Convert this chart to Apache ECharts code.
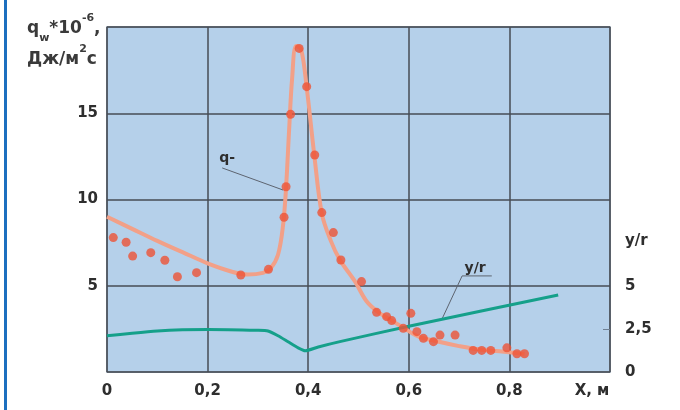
<!DOCTYPE html>
<html>
<head>
<meta charset="utf-8">
<script src="https://cdn.jsdelivr.net/npm/echarts@6/dist/echarts.min.js"></script>
<style>
  html, body { margin: 0; padding: 0; background: #fff; }
  #chart { width: 680px; height: 410px; }
</style>
</head>
<body>
<div id="chart"></div>
<script>
// fitted heat flux curve q
const curveX = [0, 0.05, 0.1, 0.15, 0.2, 0.25, 0.28, 0.31, 0.325, 0.34, 0.35, 0.356, 0.362, 0.368, 0.376, 0.386, 0.397, 0.412, 0.427, 0.445, 0.463, 0.493, 0.516, 0.54, 0.565, 0.59, 0.62, 0.66, 0.7, 0.74, 0.78, 0.83]
const curveY = [9.0, 8.3, 7.6, 6.95, 6.3, 5.8, 5.65, 5.75, 6.0, 6.8, 8.5, 10.7, 14.0, 17.0, 18.9, 18.7, 16.5, 12.6, 9.2, 7.6, 6.5, 5.25, 4.1, 3.45, 3.0, 2.55, 2.05, 1.75, 1.5, 1.3, 1.2, 1.05]

// measured points
const pointsX = [0.0125, 0.038, 0.051, 0.087, 0.115, 0.14, 0.178, 0.266, 0.321, 0.352, 0.356, 0.365, 0.382, 0.397, 0.413, 0.427, 0.45, 0.465, 0.506, 0.536, 0.556, 0.566, 0.589, 0.604, 0.616, 0.629, 0.649, 0.662, 0.692, 0.728, 0.745, 0.763, 0.795, 0.815, 0.83]
const pointsY = [7.79, 7.52, 6.72, 6.92, 6.48, 5.52, 5.76, 5.62, 5.95, 8.97, 10.74, 14.94, 18.76, 16.54, 12.58, 9.24, 8.08, 6.49, 5.24, 3.46, 3.21, 2.98, 2.53, 3.4, 2.34, 1.95, 1.76, 2.14, 2.14, 1.25, 1.25, 1.25, 1.4, 1.06, 1.06]

// y/r line
const ratioX = [0, 0.05, 0.1, 0.15, 0.2, 0.3, 0.32, 0.34, 0.36, 0.38, 0.394, 0.42, 0.463, 0.6, 0.897]
const ratioY = [2.1, 2.25, 2.38, 2.45, 2.47, 2.42, 2.38, 2.1, 1.75, 1.4, 1.23, 1.45, 1.76, 2.65, 4.46]

// tick labels
const xTicks = { 0: '0', 0.2: '0,2', 0.4: '0,4', 0.6: '0,6', 0.8: '0,8', 1: 'X, м' }
const leftTicks = [5, 10, 15]
const rightTicks = [0, 2.5, 5, 7.6]
const rightText = ['0', '2,5', '5', 'y/r']

// annotation leaders
const qLeaderX = [0.229, 0.35]
const qLeaderY = [11.83, 10.55]
const rLeaderX = [0.765, 0.706, 0.666]
const rLeaderY = [5.57, 5.57, 3.07]

const zip = (xs, ys) => xs.map((x, i) => [x, ys[i]])

const font = 'DejaVu Sans'
const labelStyle = { color: '#2e2e2e', fontWeight: 'bold', fontSize: 15, fontFamily: font }
const titleStyle = { color: '#3a3a3a', fontWeight: 'bold', fontFamily: font, lineHeight: 31 }

const chart = echarts.init(document.getElementById('chart'))

chart.setOption({
  animation: false,
  title: {
    left: 22,
    top: 8,
    text: '{a|q}{sub|w}{a|*10}{sup|-6}{a|,}\n{a|Дж/м}{sup|2}{a|с}',
    textStyle: {
      rich: {
        a: { ...titleStyle, fontSize: 17 },
        sub: { ...titleStyle, fontSize: 11, verticalAlign: 'bottom' },
        sup: { ...titleStyle, fontSize: 11, verticalAlign: 'top' },
      },
    },
  },
  graphic: [{
    type: 'rect',
    shape: { x: 4, y: 0, width: 3, height: 410 },
    style: { fill: '#1c6fbf' },
  }],
  grid: {
    left: 107,
    right: 70,
    top: 27,
    bottom: 38,
    show: true,
    backgroundColor: '#b5d0ea',
    borderColor: '#6f8093',
    borderWidth: 1.5,
  },
  xAxis: {
    type: 'value',
    min: 0,
    max: 1,
    interval: 0.2,
    axisLine: { show: false },
    axisTick: { show: false },
    splitLine: { lineStyle: { color: '#474c54', width: 1.5 } },
    axisLabel: {
      ...labelStyle,
      margin: 12,
      showMaxLabel: true,
      formatter: v => {
        const t = xTicks[Math.round(v * 10) / 10]
        return v === 1 ? '{n|' + t + '}' : t
      },
      rich: { n: { ...labelStyle, padding: [0, 36, 0, 0] } },
    },
  },
  yAxis: [{
    type: 'value',
    min: 0,
    max: 20,
    interval: 5,
    axisLine: { show: false },
    axisTick: { show: false },
    splitLine: { lineStyle: { color: '#474c54', width: 1.5 } },
    axisLabel: {
      ...labelStyle,
      margin: 9,
      formatter: v => leftTicks.includes(v) ? String(v) : '',
    },
  }, {
    type: 'value',
    position: 'right',
    min: 0,
    max: 20,
    axisLine: { show: false },
    splitLine: { show: false },
    axisTick: {
      show: true,
      inside: true,
      length: 7,
      customValues: [2.5],
      lineStyle: { color: '#6f8093', width: 1 },
    },
    axisLabel: {
      ...labelStyle,
      margin: 15,
      customValues: rightTicks,
      formatter: v => rightText[rightTicks.indexOf(v)] ?? '',
    },
  }],
  series: [{
    name: 'q',
    type: 'line',
    data: zip(curveX, curveY),
    smooth: 0.35,
    showSymbol: false,
    lineStyle: { color: '#f2a088', width: 4 },
    z: 3,
  }, {
    name: 'q points',
    type: 'scatter',
    data: zip(pointsX, pointsY),
    symbolSize: 9,
    itemStyle: { color: '#ee5236' },
    z: 5,
  }, {
    name: 'y/r',
    type: 'line',
    data: zip(ratioX, ratioY),
    smooth: 0.2,
    showSymbol: false,
    lineStyle: { color: '#15a08a', width: 3 },
    z: 4,
  }, {
    type: 'line',
    data: zip(qLeaderX, qLeaderY),
    showSymbol: false,
    lineStyle: { color: '#5d6470', width: 1 },
    silent: true,
    z: 2,
    markPoint: {
      symbol: 'circle',
      symbolSize: 0,
      data: [{ coord: [0.239, 12.4], label: { show: true, formatter: 'q-', ...labelStyle, fontSize: 14 } }],
    },
  }, {
    type: 'line',
    data: zip(rLeaderX, rLeaderY),
    showSymbol: false,
    lineStyle: { color: '#5d6470', width: 1 },
    silent: true,
    z: 2,
    markPoint: {
      symbol: 'circle',
      symbolSize: 0,
      data: [{ coord: [0.732, 6.03], label: { show: true, formatter: 'y/r', ...labelStyle, fontSize: 14 } }],
    },
  }],
})
</script>
</body>
</html>
